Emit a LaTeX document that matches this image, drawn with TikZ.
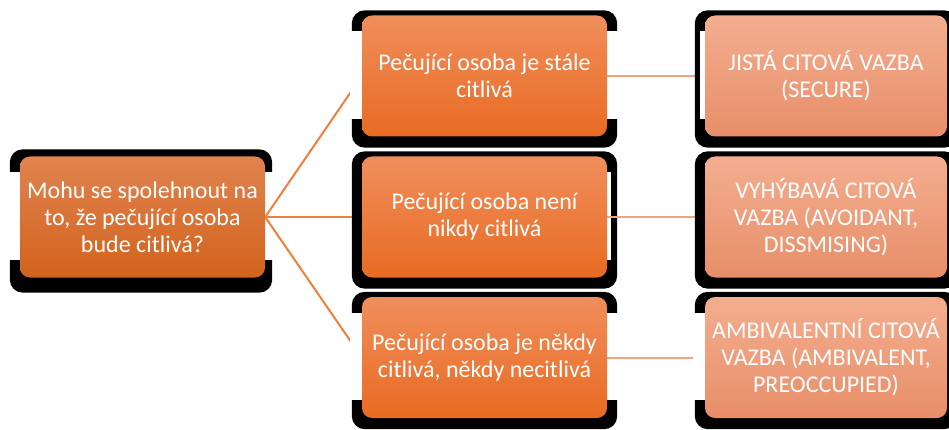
\documentclass[tikz,border=0pt]{standalone}
\usepackage{fontspec}
\setmainfont{Carlito}
\pgfdeclarelayer{shadowA}
\pgfdeclarelayer{linesB}
\pgfdeclarelayer{shadowC}
\pgfdeclarelayer{linesD}
\pgfdeclarelayer{shadowE}
\pgfsetlayers{shadowA,linesB,shadowC,linesD,shadowE,main}
\definecolor{lefttop}{HTML}{E08450}
\definecolor{leftbot}{HTML}{D2621C}
\definecolor{midtop}{HTML}{F08E5C}
\definecolor{midbot}{HTML}{E86B22}
\definecolor{righttop}{HTML}{F3AE8F}
\definecolor{rightbot}{HTML}{E88E69}
\definecolor{connA}{HTML}{F07F3C}
\definecolor{connB}{HTML}{F2A283}
\begin{document}
\begin{tikzpicture}[x=1pt,y=-1pt,
  box/.style={rounded corners=10pt, text=white, align=center,
    font=\fontsize{24}{27}\selectfont, inner sep=0pt, minimum height=121pt},
  qbox/.style={box, minimum width=245pt, top color=lefttop, bottom color=leftbot},
  mbox/.style={box, minimum width=245pt, top color=midtop, bottom color=midbot},
  rbox/.style={box, minimum width=242pt, top color=righttop, bottom color=rightbot},
  connleft/.style={draw=connA, line width=2pt},
  connright/.style={draw=connB, line width=2pt},
  shadowfill/.style={fill=black, rounded corners=13pt},
  gapfill/.style={fill=white}]
\useasboundingbox (0,0) rectangle (949,430);
\node[qbox] (q) at (142.5,217) {Mohu se spolehnout na\\to, že pečující osoba\\bude citlivá?};
\node[mbox] (m1) at (484.5,76) {Pečující osoba je stále\\citlivá};
\node[mbox] (m2) at (484.5,217) {Pečující osoba není\\nikdy citlivá};
\node[mbox] (m3) at (484.5,357.5) {Pečující osoba je někdy\\citlivá, někdy necitlivá};
\node[rbox] (r1) at (826,76) {JISTÁ CITOVÁ VAZBA\\(SECURE)};
\node[rbox] (r2) at (826,217) {VYHÝBAVÁ CITOVÁ\\VAZBA (AVOIDANT,\\DISSMISING)};
\node[rbox] (r3) at (826,357.5) {AMBIVALENTNÍ CITOVÁ\\VAZBA (AMBIVALENT,\\PREOCCUPIED)};
\begin{pgfonlayer}{shadowA}
  \fill[shadowfill] ([xshift=-10pt,yshift=7pt]q.north west) rectangle ([xshift=7pt,yshift=-15pt]q.south east);
  \fill[gapfill] ([xshift=-12pt,yshift=-16pt]q.north west) rectangle ([yshift=18pt]q.south west);
  \fill[gapfill] ([yshift=-16pt]q.north east) rectangle ([xshift=12pt,yshift=18pt]q.south east);
\end{pgfonlayer}
\begin{pgfonlayer}{linesB}
  \draw[connleft] (q.east) -- (m1.west);
  \draw[connleft] (q.east) -- (m2.west);
  \draw[connleft] (q.east) -- (m3.west);
\end{pgfonlayer}
\begin{pgfonlayer}{shadowC}
  \foreach \n in {m1,m2,m3}
    \fill[shadowfill] ([xshift=-10pt,yshift=5pt]\n.north west) rectangle ([xshift=10pt,yshift=-11pt]\n.south east);
  \foreach \n in {m1,m3} {
    \fill[gapfill] ([xshift=-12pt,yshift=-16pt]\n.north west) rectangle ([yshift=18pt]\n.south west);
    \fill[gapfill] ([yshift=-16pt]\n.north east) rectangle ([xshift=12pt,yshift=18pt]\n.south east);
  }
  \fill[gapfill] ([yshift=-16pt]m2.north east) rectangle ([xshift=4pt,yshift=18pt]m2.south east);
\end{pgfonlayer}
\begin{pgfonlayer}{linesD}
  \draw[connright] (m1.east) -- (r1.west);
  \draw[connright] (m2.east) -- (r2.west);
  \draw[connright] (m3.east) -- (r3.west);
\end{pgfonlayer}
\begin{pgfonlayer}{shadowE}
  \foreach \n in {r1,r2,r3}
    \fill[shadowfill] ([xshift=-10pt,yshift=5pt]\n.north west) rectangle ([xshift=10pt,yshift=-11pt]\n.south east);
  \fill[gapfill] ([xshift=-12pt,yshift=-16pt]r3.north west) rectangle ([yshift=18pt]r3.south west);
  \fill[gapfill] ([xshift=-5pt,yshift=-16pt]r1.north west) rectangle ([yshift=18pt]r1.south west);
\end{pgfonlayer}
\end{tikzpicture}
\end{document}
